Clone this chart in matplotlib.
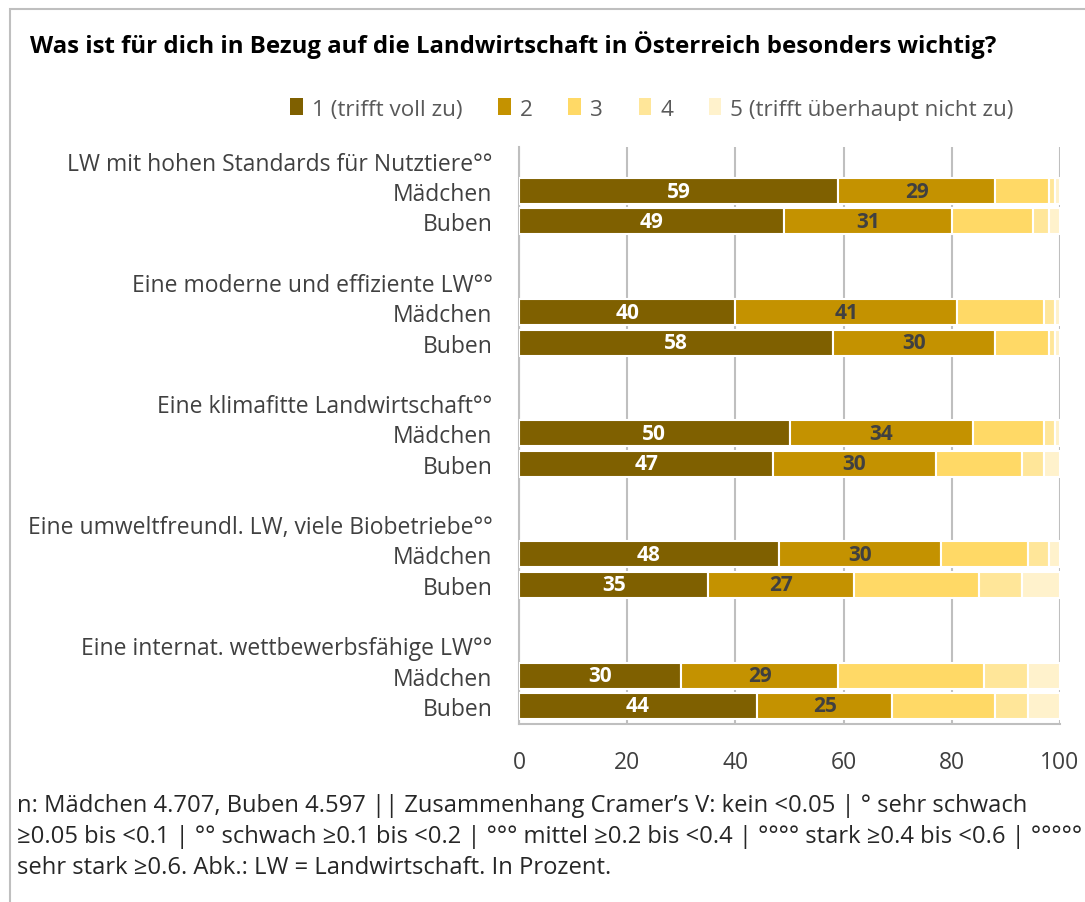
import matplotlib
matplotlib.use('Agg')
import matplotlib.pyplot as plt
from matplotlib.patches import Rectangle, Patch
import numpy as np

# Data (in percent)
groups = ['LW mit hohen Standards für Nutztiere°°',
          'Eine moderne und effiziente LW°°',
          'Eine klimafitte Landwirtschaft°°',
          'Eine umweltfreundl. LW, viele Biobetriebe°°',
          'Eine internat. wettbewerbsfähige LW°°']
genders = ['Mädchen', 'Buben']
legend_labels = ['1 (trifft voll zu)', '2', '3', '4', '5 (trifft überhaupt nicht zu)']

maedchen = [[59, 29, 10, 1, 1],
            [40, 41, 16, 2, 1],
            [50, 34, 13, 2, 1],
            [48, 30, 16, 4, 2],
            [30, 29, 27, 8, 6]]
buben = [[49, 31, 15, 3, 2],
         [58, 30, 10, 1, 1],
         [47, 30, 16, 4, 3],
         [35, 27, 23, 8, 7],
         [44, 25, 19, 6, 6]]

colors = ['#7F6000', '#C49200', '#FFD966', '#FFE699', '#FFF2CC']
label_colors = ['white', '#404040']

W, H = 1085, 903
fig = plt.figure(figsize=(W / 100, H / 100), dpi=100, facecolor='white')
font = 'Open Sans'

# outer frame
fig.patches.append(Rectangle((10 / W, -0.1), 1.2, 1 - 10 / H + 0.1, transform=fig.transFigure,
                             fill=False, edgecolor='#BFBFBF', linewidth=1.5))

ax = fig.add_axes([519 / W, 1 - 725 / H, (1060 - 519) / W, (725 - 148) / H])

rows_y, rows_lbl = [], []
for g, grp in enumerate(groups):
    rows_y.append(4 * g)
    rows_lbl.append(grp)
    for k, (gen, data) in enumerate(zip(genders, [maedchen, buben])):
        y = 4 * g + 1 + k
        rows_y.append(y)
        rows_lbl.append(gen)
        left = 0
        for s, v in enumerate(data[g]):
            ax.barh(y, v, left=left, height=0.86, color=colors[s],
                    edgecolor='white', linewidth=1.5, zorder=3)
            if s < 2:
                ax.text(left + v / 2, y, str(v), ha='center', va='center',
                        color=label_colors[s], fontsize=15, fontweight='bold',
                        family=font, zorder=4)
            left += v

ax.set_xlim(0, 100)
ax.set_ylim(18.6, -0.46)
ax.set_xticks([0, 20, 40, 60, 80, 100])
ax.set_yticks(rows_y)
ax.set_yticklabels(rows_lbl, family=font, fontsize=16.5, color='#404040')
ax.tick_params(axis='y', length=0, pad=19)
ax.tick_params(axis='x', length=0, pad=19, labelsize=16.5, labelcolor='#404040')
for t in ax.get_xticklabels():
    t.set_family(font)
ax.grid(axis='x', color='#BFBFBF', linewidth=1.5, zorder=0)
for sp in ['top', 'right']:
    ax.spines[sp].set_visible(False)
for sp in ['left', 'bottom']:
    ax.spines[sp].set_color('#BFBFBF')
    ax.spines[sp].set_linewidth(1.5)

fig.text(30 / W, 1 - 45 / H, 'Was ist für dich in Bezug auf die Landwirtschaft in Österreich besonders wichtig?',
         fontsize=17.3, fontweight='bold', family=font, color='black', va='center', ha='left')

handles = [Patch(facecolor=c, edgecolor='none') for c in colors]
leg = fig.legend(handles, legend_labels, loc='center', bbox_to_anchor=(652 / W, 1 - 110 / H),
                 ncol=5, frameon=False, handlelength=0.55, handleheight=0.75,
                 handletextpad=0.4, columnspacing=1.6,
                 prop={'family': font, 'size': 16.2})
for t in leg.get_texts():
    t.set_color('#595959')

foot = ("n: Mädchen 4.707, Buben 4.597 || Zusammenhang Cramer’s V: kein <0.05 | ° sehr schwach\n"
        "≥0.05 bis <0.1 | °° schwach ≥0.1 bis <0.2 | °°° mittel ≥0.2 bis <0.4 | °°°° stark ≥0.4 bis <0.6 | °°°°°\n"
        "sehr stark ≥0.6. Abk.: LW = Landwirtschaft. In Prozent.")
fig.text(17 / W, 1 - 794 / H, foot, fontsize=17.1, family=font,
         color='#262626', va='top', ha='left', linespacing=1.4)

fig.savefig('out.png', dpi=100, facecolor='white')
